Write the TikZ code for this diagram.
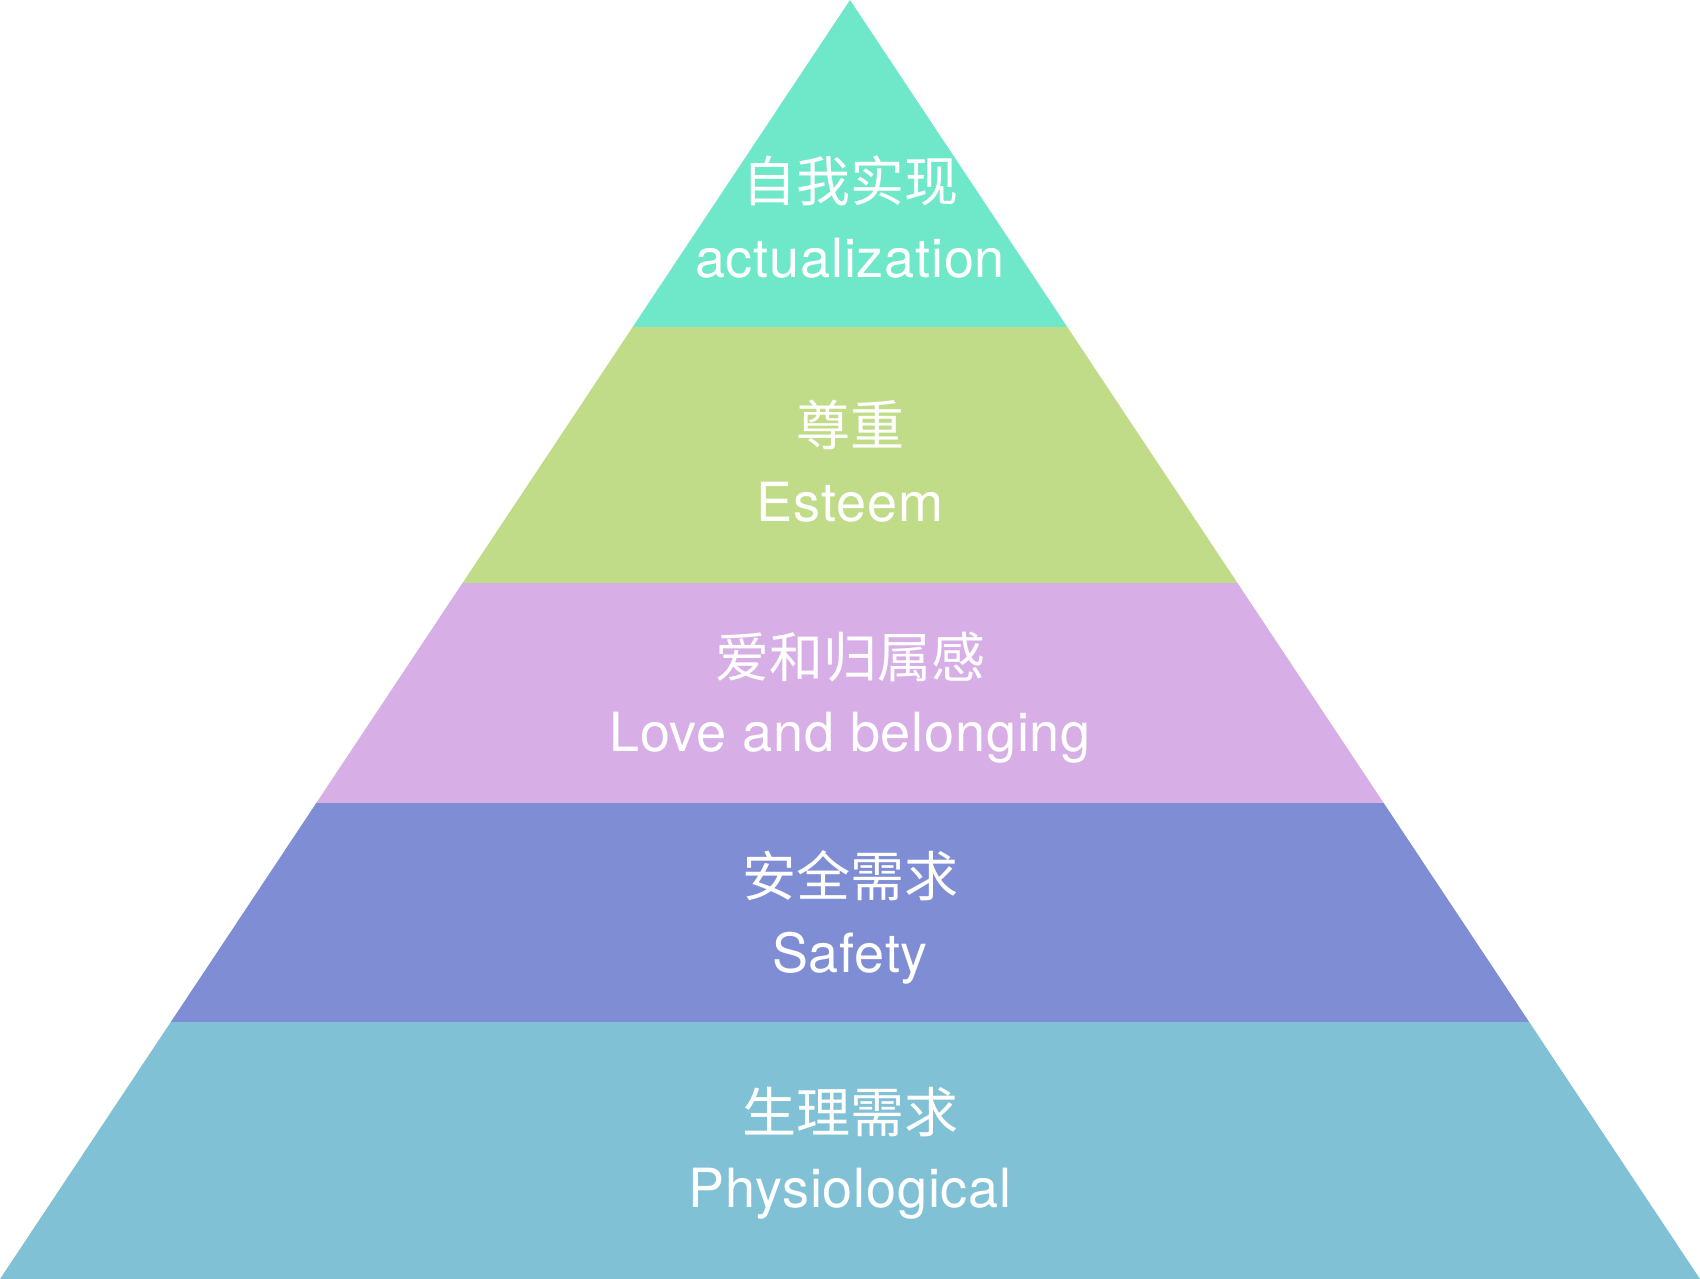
\documentclass[tikz,border=0pt]{standalone}
\usepackage{fontspec}
\setmainfont{Noto Sans CJK SC}
\newfontfamily\latinfont[LetterSpace=1.5]{TeX Gyre Heros}
\definecolor{topc}{HTML}{6FE7C9}
\definecolor{esteemc}{HTML}{C1DC88}
\definecolor{lovec}{HTML}{D7AEE5}
\definecolor{safetyc}{HTML}{7F8DD4}
\definecolor{physc}{HTML}{81C1D5}
\tikzset{
  zhlbl/.style={text=white, font=\fontsize{54}{58}\selectfont, inner sep=0pt},
  enlbl/.style={text=white, font=\latinfont\fontsize{54}{58}\selectfont, inner sep=0pt}
}
\begin{document}
\begin{tikzpicture}[x=1pt,y=-1pt]
      \useasboundingbox (0,0) rectangle (1700,1279);
      % layers
      \fill[topc]    (850,0) -- (1067.3,327) -- (632.7,327) -- cycle;
      \fill[esteemc] (632.7,327) -- (1067.3,327) -- (1237.5,583) -- (462.5,583) -- cycle;
      \fill[lovec]   (462.5,583) -- (1237.5,583) -- (1383.7,803) -- (316.3,803) -- cycle;
      \fill[safetyc] (316.3,803) -- (1383.7,803) -- (1529.2,1022) -- (170.8,1022) -- cycle;
      \fill[physc]   (170.8,1022) -- (1529.2,1022) -- (1700,1279) -- (0,1279) -- cycle;
      % labels
      \node[zhlbl] (topzh)    at (850,181)  {自我实现};
      \node[enlbl] (topen)    at (850,258)  {actualization};
      \node[zhlbl] (esteemzh) at (850,425)  {尊重};
      \node[enlbl] (esteemen) at (850,502)  {Esteem};
      \node[zhlbl] (lovezh)   at (850,657)  {爱和归属感};
      \node[enlbl] (loveen)   at (850,738)  {Love and belonging};
      \node[zhlbl] (safetyzh) at (850,876)  {安全需求};
      \node[enlbl] (safetyen) at (850,958)  {Safety};
      \node[zhlbl] (physzh)   at (850,1112) {生理需求};
      \node[enlbl] (physen)   at (850,1194) {Physiological};
\end{tikzpicture}
\end{document}
